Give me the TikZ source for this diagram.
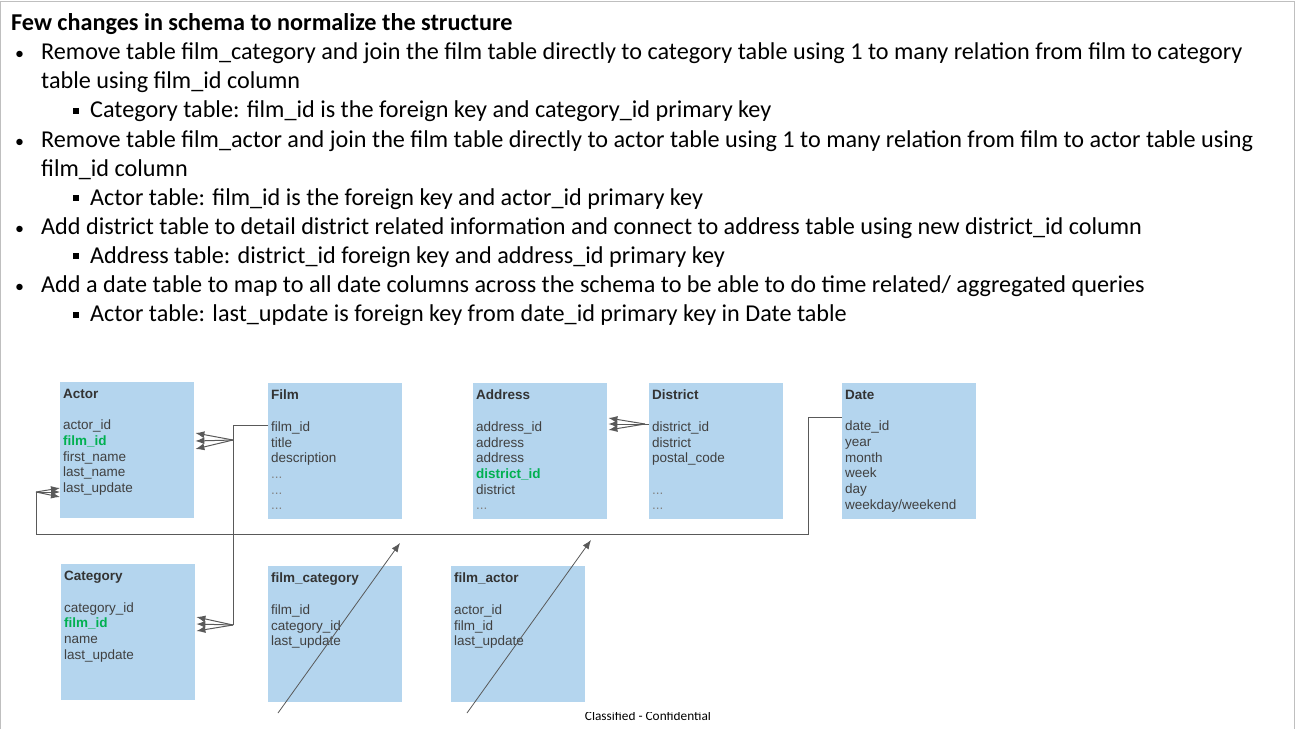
\documentclass[tikz,border=0pt]{standalone}
\usepackage{fontspec}
\setmainfont{Carlito}
\newfontfamily\tabfont{Liberation Sans}
\usetikzlibrary{arrows.meta,positioning,calc}

\definecolor{tblblue}{RGB}{180,213,238}
\definecolor{txtgray}{RGB}{64,64,64}
\definecolor{headgray}{RGB}{51,51,51}
\definecolor{dotgray}{RGB}{130,130,130}
\definecolor{keygreen}{RGB}{0,176,80}
\definecolor{relgray}{RGB}{89,89,89}
\definecolor{framegray}{RGB}{191,191,191}

\tikzset{
  tbl/.style={rectangle,fill=tblblue,minimum width=134pt,minimum height=136pt,inner sep=0pt,anchor=north west},
  cols/.style={anchor=north west,inner sep=0pt,align=left,text=txtgray,font=\tabfont\fontsize{13.5}{15.7}\selectfont},
  rel/.style={draw=relgray,line width=1pt},
  fk/.style={rel,-{Latex[length=9pt,width=7pt]}},
}
\newcommand{\pk}[1]{\textbf{\textcolor{keygreen}{#1}}}
\newcommand{\hd}[1]{\textbf{\textcolor{headgray}{#1}}}
\newcommand{\dt}{\textcolor{dotgray}{...}}
\newcommand{\bul}{\hspace*{4pt}\makebox[26pt][l]{\fontsize{18}{18}\selectfont\textbullet}}
\newcommand{\cont}{\hspace*{30pt}}
\newcommand{\sqb}{\hspace*{62pt}\makebox[17pt][l]{\raisebox{4pt}{\rule{6pt}{6pt}}}}

\begin{document}
\begin{tikzpicture}[x=1pt,y=-1pt]
    \useasboundingbox (0,0) rectangle (1295,729);
    \draw[framegray] (0.5,729) -- (0.5,1) -- (1294.5,1) -- (1294.5,729);

    % notes on top
    \node[anchor=north west,inner sep=0pt,align=left,font=\fontsize{24.2}{29.1}\selectfont] (notes) at (11,13.5) {%
        \textbf{Few changes in schema to normalize the structure}\\
        \bul Remove table film\_category and join the film table directly to category table using 1 to many relation from film to category\\
        \cont table using film\_id column\\
        \sqb Category table: film\_id is the foreign key and category\_id primary key\\
        \bul Remove table film\_actor and join the film table directly to actor table using 1 to many relation from film to actor table using\\
        \cont film\_id column\\
        \sqb Actor table: film\_id is the foreign key and actor\_id primary key\\
        \bul Add district table to detail district related information and connect to address table using new district\_id column\\
        \sqb Address table: district\_id foreign key and address\_id primary key\\
        \bul Add a date table to map to all date columns across the schema to be able to do time related/ aggregated queries\\
        \sqb Actor table: last\_update is foreign key from date\_id primary key in Date table};

    % tables
    \node[tbl] (actor) at (60,382) {};
    \node[tbl] (film) at (268,383) {};
    \node[tbl] (address) at (473,383) {};
    \node[tbl] (district) at (649,383) {};
    \node[tbl] (date) at (842,383) {};
    \node[tbl] (category) at (61,564) {};
    \node[tbl] (filmcat) at (268,566) {};
    \node[tbl] (filmact) at (451,566) {};

    \node[cols] (actortxt) at ([shift={(3pt,-7pt)}]actor.north west)
        {\hd{Actor}\\[15.7pt]actor\_id\\\pk{film\_id}\\first\_name\\last\_name\\last\_update};
    \node[cols] (filmtxt) at ([shift={(3pt,-7pt)}]film.north west)
        {\hd{Film}\\[15.7pt]film\_id\\title\\description\\\dt\\\dt\\\dt};
    \node[cols] (addresstxt) at ([shift={(3pt,-7pt)}]address.north west)
        {\hd{Address}\\[15.7pt]address\_id\\address\\address\\\pk{district\_id}\\district\\\dt};
    \node[cols] (districttxt) at ([shift={(3pt,-7pt)}]district.north west)
        {\hd{District}\\[15.7pt]district\_id\\district\\postal\_code\\[15.7pt]\dt\\\dt};
    \node[cols] (datetxt) at ([shift={(3pt,-7pt)}]date.north west)
        {\hd{Date}\\[15.7pt]date\_id\\year\\month\\week\\day\\weekday/weekend};
    \node[cols] (categorytxt) at ([shift={(3pt,-7pt)}]category.north west)
        {\hd{Category}\\[15.7pt]category\_id\\\pk{film\_id}\\name\\last\_update};
    \node[cols] (filmcattxt) at ([shift={(3pt,-7pt)}]filmcat.north west)
        {\hd{film\_category}\\[15.7pt]film\_id\\category\_id\\last\_update};
    \node[cols] (filmacttxt) at ([shift={(3pt,-7pt)}]filmact.north west)
        {\hd{film\_actor}\\[15.7pt]actor\_id\\film\_id\\last\_update};

    % film -> actor, film -> category
    \coordinate (filmout) at ($(film.north west)+(0,42)$);
    \coordinate (actfan) at ($(film.north west)+(-35,57)$);
    \coordinate (catfan) at ($(film.north west)+(-35,242)$);
    \draw[rel] (filmout) -| (catfan);
    \foreach \d in {-8,0,8}
        \draw[fk] (actfan) -- ($(actor.north east)+(1,59+\d)$);
    \foreach \d in {-7,0,7}
        \draw[fk] (catfan) -- ($(category.north east)+(1,60+\d)$);

    % district -> address
    \coordinate (distfan) at ($(district.north west)+(-4,41)$);
    \draw[rel] ($(district.north west)+(0,41)$) -- (distfan);
    \foreach \d in {-6,0,6}
        \draw[fk] (distfan) -- ($(address.north east)+(1,41+\d)$);

    % date -> actor.last_update
    \coordinate (dateout) at ($(date.north west)+(0,34)$);
    \coordinate (dateturn) at (808,534);
    \coordinate (lufan) at (36,492);
    \draw[rel] (dateout) -| (dateturn) -| (lufan);
    \foreach \d in {-4,0,5}
        \draw[fk] (lufan) -- ($(actor.north west)+(0,110+\d)$);

    % dropped link tables
    \coordinate (fcfrom) at (278,713);
    \coordinate (fcto) at (400,543);
    \coordinate (fafrom) at (467,713);
    \coordinate (fato) at (591,540);
    \draw[fk,line width=0.8pt] (fcfrom) -- (fcto);
    \draw[fk,line width=0.8pt] (fafrom) -- (fato);

    \begin{scope}
        \clip (0,712) rectangle (1295,729);
        \node[anchor=base,font=\fontsize{13.3}{15}\selectfont] (conf) at (648,720.5) {Classified - Confidential};
    \end{scope}
\end{tikzpicture}
\end{document}
